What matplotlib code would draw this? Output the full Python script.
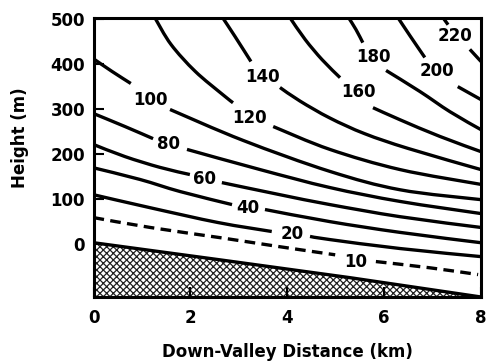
import numpy as np
import matplotlib
matplotlib.use("Agg")
import matplotlib.pyplot as plt
from matplotlib.path import Path
from matplotlib.patches import PathPatch

plt.rcParams['font.family'] = ['DejaVu Sans']
plt.rcParams['hatch.linewidth'] = 0.9

nan = np.nan

# Contour lines (down-valley distance km, height m); nan = gap for the label
c220_x = [7.22, 7.32, nan, 7.77, 8.0]
c220_y = [503, 488, nan, 433, 406]
c200_x = [6.29, 6.53, 6.84, nan, 7.52, 8.0]
c200_y = [503, 464, 415, nan, 350, 321]
c180_x = [5.27, 5.42, 5.56, nan, 6.04, 6.74, 7.36, 8.0]
c180_y = [503, 477, 448, nan, 386, 339, 294, 254]
c160_x = [4.06, 4.37, 4.72, 5.09, nan, 5.77, 6.33, 7.15, 8.0]
c160_y = [503, 455, 410, 370, nan, 303, 276, 239, 205]
c140_x = [2.67, 2.92, 3.25, nan, 3.85, 4.26, 4.88, 5.6, 6.5, 8.0]
c140_y = [503, 462, 406, nan, 348, 318, 280, 245, 212, 165]
c120_x = [1.27, 1.60, 2.10, 2.67, 2.88, nan, 3.71, 4.88, 6.33, 8.0]
c120_y = [503, 444, 384, 332, 314, nan, 261, 210, 165, 132]
c100_x = [0.0, 0.38, 0.77, nan, 1.58, 3.09, 4.88, 6.33, 8.0]
c100_y = [412, 384, 357, nan, 299, 230, 161, 120, 98]
c80_x = [0.0, 0.65, 1.23, nan, 1.93, 3.44, 4.88, 6.33, 8.0]
c80_y = [290, 261, 234, nan, 210, 165, 125, 94, 67]
c60_x = [0.0, 0.65, 1.37, 1.99, nan, 2.65, 3.85, 4.88, 6.33, 8.0]
c60_y = [221, 194, 170, 154, nan, 136, 109, 87, 60, 36]
c40_x = [0.0, 0.96, 1.79, 2.86, nan, 3.54, 4.88, 6.33, 8.0]
c40_y = [169, 143, 116, 87, nan, 76, 49, 25, 2]
c20_x = [0.0, 1.17, 2.57, 3.68, nan, 4.47, 4.88, 6.33, 8.0]
c20_y = [109, 80, 47, 27, nan, 16, 9, -11, -29]
c10_x = [0.0, 1.17, 2.63, 3.85, 4.99, nan, 5.83, 6.95, 7.94]
c10_y = [58, 36, 13, -7, -25, nan, -40, -54, -69]

# Contour label texts and positions
label_text = ["220", "200", "180", "160", "140", "120", "100", "80", "60", "40", "20", "10"]
label_x = [7.46, 7.09, 5.77, 5.46, 3.48, 3.23, 1.17, 1.54, 2.30, 3.19, 4.10, 5.42]
label_y = [462, 384, 415, 337, 372, 279, 321, 223, 143, 80, 22, -40]

# Valley floor
ground_x = [0.0, 2.6, 5.3, 8.0]
ground_y = [2, -36, -76, -119]

x_ticks = [0, 2, 4, 6, 8]
y_ticks = [0, 100, 200, 300, 400, 500]


def smooth_path(xs, ys):
    """Smooth (Catmull-Rom as cubic Bezier) path through the read points,
    with a break at each nan."""
    verts, codes = [], []
    segs, cur = [], []
    for x, y in zip(xs, ys):
        if np.isnan(x):
            if cur:
                segs.append(cur)
            cur = []
        else:
            cur.append((x, y))
    if cur:
        segs.append(cur)
    for seg in segs:
        p = np.array(seg, dtype=float)
        n = len(p)
        verts.append(tuple(p[0]))
        codes.append(Path.MOVETO)
        for i in range(n - 1):
            p0 = p[i - 1] if i > 0 else p[i]
            p1 = p[i]
            p2 = p[i + 1]
            p3 = p[i + 2] if i + 2 < n else p[i + 1]
            c1 = p1 + (p2 - p0) / 6.0
            c2 = p2 - (p3 - p1) / 6.0
            verts += [tuple(c1), tuple(c2), tuple(p2)]
            codes += [Path.CURVE4] * 3
    return Path(verts, codes)


fig = plt.figure(figsize=(4.86, 3.64), dpi=100)
ax = fig.add_axes([0.1924, 0.1841, 0.7973, 0.7665])

solid = [(c220_x, c220_y), (c200_x, c200_y), (c180_x, c180_y), (c160_x, c160_y),
         (c140_x, c140_y), (c120_x, c120_y), (c100_x, c100_y), (c80_x, c80_y),
         (c60_x, c60_y), (c40_x, c40_y), (c20_x, c20_y)]
for xs, ys in solid:
    ax.add_patch(PathPatch(smooth_path(xs, ys), facecolor='none', edgecolor='black',
                           lw=2.4, capstyle='butt'))
ax.add_patch(PathPatch(smooth_path(c10_x, c10_y), facecolor='none', edgecolor='black',
                       lw=2.4, linestyle=(0, (3.2, 1.9)), capstyle='butt'))

for t, lx, ly in zip(label_text, label_x, label_y):
    ax.text(lx, ly, t, ha='center', va='center', fontsize=12, fontweight='bold')

ax.fill_between(ground_x, ground_y, -119, facecolor='white', edgecolor='#222222',
                hatch='xxxxx', linewidth=0)
ax.plot(ground_x, ground_y, color='black', lw=2.4)

ax.set_xlim(0, 8)
ax.set_ylim(-119, 503)
ax.set_xticks(x_ticks)
ax.set_yticks(y_ticks)
ax.tick_params(direction='in', length=7, width=1.5, labelsize=12)
for lab in ax.get_xticklabels() + ax.get_yticklabels():
    lab.set_fontweight('bold')
ax.tick_params(axis='x', pad=9)
ax.tick_params(axis='y', pad=6)
for s in ax.spines.values():
    s.set_linewidth(2.2)

ax.set_xlabel('Down-Valley Distance (km)', fontsize=12, fontweight='bold', va='center')
ax.set_ylabel('Height (m)', fontsize=12, fontweight='bold', va='center')
ax.xaxis.set_label_coords(0.5, -0.197)
ax.yaxis.set_label_coords(-0.19, 0.57)

fig.savefig('out.png', dpi=100)
